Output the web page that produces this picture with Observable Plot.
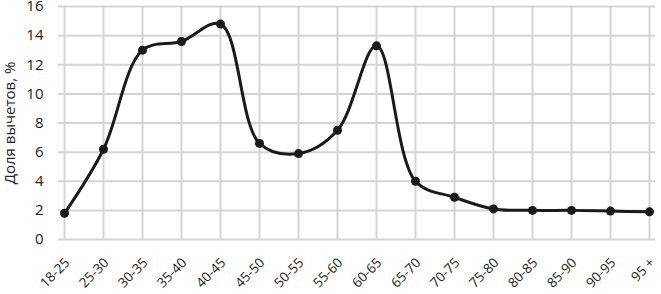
<!DOCTYPE html>
<html><head><meta charset="utf-8">
<script src="https://cdn.jsdelivr.net/npm/d3@7"></script>
<script src="https://cdn.jsdelivr.net/npm/@observablehq/plot@0.6"></script>
<style>body{margin:0;background:#fff}</style>
</head><body><div id="chart"></div>
<script>
const ages = ["18-25","25-30","30-35","35-40","40-45","45-50","50-55","55-60","60-65","65-70","70-75","75-80","80-85","85-90","90-95","95 +"];
const shares = [1.8,6.2,13.0,13.6,14.8,6.6,5.9,7.5,13.3,4.0,2.9,2.1,2.0,2.0,1.95,1.9];
const yTicks = [0,2,4,6,8,10,12,14,16];
const data = ages.map((a,i)=>({age:a, v:shares[i]}));
const chart = Plot.plot({
  width:661, height:294,
  marginLeft:58, marginRight:6, marginTop:6, marginBottom:55,
  style:{fontFamily:"'Open Sans', sans-serif", fontSize:"13px", color:"#222"},
  x:{type:"point", domain:ages, padding:0, axis:null},
  y:{domain:[0,16]},
  marks:[
    Plot.gridX(ages,{stroke:"#d4d4d4", strokeWidth:2, strokeOpacity:1}),
    Plot.gridY(yTicks,{stroke:"#d4d4d4", strokeWidth:2, strokeOpacity:1}),
    Plot.axisY(yTicks,{tickSize:0, tickPadding:15, fontSize:15, label:"Доля вычетов, %", labelAnchor:"center", labelArrow:"none", labelOffset:54}),
    Plot.text(ages,{x:d=>d, frameAnchor:"bottom", dx:3, dy:21, rotate:-45, textAnchor:"end", lineAnchor:"middle", fontSize:13.5, fill:"#222"}),
    Plot.line(data,{x:"age", y:"v", curve:"catmull-rom", stroke:"#1a1a1a", strokeWidth:3}),
    Plot.dot(data,{x:"age", y:"v", r:4.5, fill:"#1a1a1a"})
  ]
});
document.getElementById("chart").append(chart);
</script></body></html>
